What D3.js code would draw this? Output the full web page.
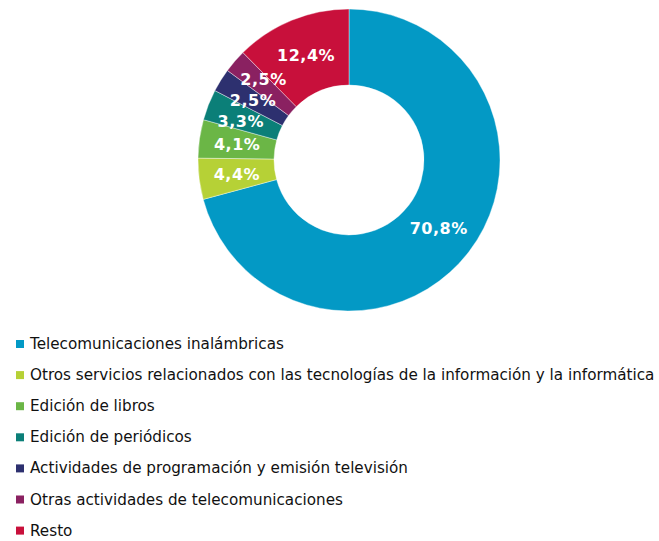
<!DOCTYPE html>
<html lang="es">
<head>
  <meta charset="UTF-8">
  <title>Donut</title>
  <script src="https://d3js.org/d3.v7.min.js"></script>
  <style>
    body { margin: 0; background: #fff; font-family: "DejaVu Sans", Verdana, sans-serif; }
    svg { display: block; }
    .lbl { fill: #fff; font-weight: bold; font-size: 16px; letter-spacing: 0.5px; }
    .leg { fill: #111; font-size: 15.2px; }
  </style>
</head>
<body>
  <svg width="659" height="541"></svg>
  <script>
    const categories = [
      "Telecomunicaciones inalámbricas",
      "Otros servicios relacionados con las tecnologías de la información y la informática",
      "Edición de libros",
      "Edición de periódicos",
      "Actividades de programación y emisión televisión",
      "Otras actividades de telecomunicaciones",
      "Resto"
    ];
    const values = [70.8, 4.4, 4.1, 3.3, 2.5, 2.5, 12.4];
    const colors = ["#0399c5", "#b6d136", "#6bb646", "#0b7f78", "#2d306f", "#8a2161", "#c8103b"];

    const svg = d3.select("svg");
    const cx = 349, cy = 160, rOut = 151, rIn = 75;

    const pie = d3.pie().sort(null).value(d => d.v);
    const arcs = pie(values.map((v, i) => ({ v, i })));
    const arc = d3.arc().innerRadius(rIn).outerRadius(rOut);
    const labelArc = d3.arc().innerRadius(113).outerRadius(113);

    const g = svg.append("g").attr("transform", `translate(${cx},${cy})`);
    g.selectAll("path")
      .data(arcs)
      .enter().append("path")
      .attr("d", arc)
      .attr("fill", d => colors[d.data.i])
      .attr("stroke", "#fff")
      .attr("stroke-width", 0.4);

    // small slices: labels pushed apart a little, like the original
    const nudge = { 3: [-3, 3], 5: [0, -7] };
    g.selectAll("text")
      .data(arcs)
      .enter().append("text")
      .attr("class", "lbl")
      .attr("text-anchor", "middle")
      .attr("dominant-baseline", "central")
      .attr("transform", d => {
        const [x, y] = labelArc.centroid(d);
        const [nx, ny] = nudge[d.data.i] || [0, 0];
        return `translate(${x + nx},${y + ny})`;
      })
      .text(d => d.data.v.toFixed(1).replace(".", ",") + "%");

    const leg = svg.append("g").attr("transform", "translate(16,344)");
    const row = leg.selectAll("g")
      .data(categories)
      .enter().append("g")
      .attr("transform", (d, i) => `translate(0,${i * 31.1})`);
    row.append("rect")
      .attr("x", 0).attr("y", -4)
      .attr("width", 8).attr("height", 8)
      .attr("fill", (d, i) => colors[i]);
    row.append("text")
      .attr("class", "leg")
      .attr("x", 14).attr("y", 0)
      .attr("dominant-baseline", "central")
      .text(d => d);
  </script>
</body>
</html>
